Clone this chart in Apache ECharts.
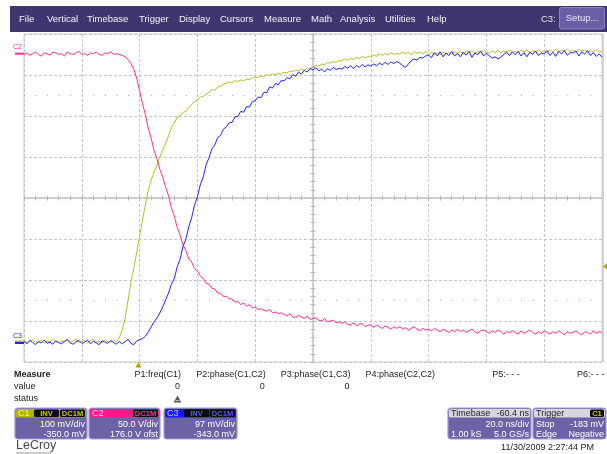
<!DOCTYPE html>
<html>
<head>
<meta charset="utf-8">
<script src="https://cdn.jsdelivr.net/npm/echarts/dist/echarts.min.js"></script>
<style>
  html, body { margin: 0; padding: 0; background: #ffffff; }
  #scope { width: 607px; height: 454px; }
</style>
</head>
<body>
<div id="scope"></div>
<script>
// ---- acquisition settings ----
const TIMEBASE_NS_PER_DIV = 20;
const TIMEBASE_DELAY_NS = -60.4;
const SAMPLE_START_NS = -39.6;
const SAMPLE_STEP_NS = 1;
const TRIGGER_LEVEL_MV = -183;

const C1_MV_PER_DIV = 100, C1_OFFSET_MV = -350, C1_INVERTED = true;
const C2_V_PER_DIV = 50, C2_OFFSET_V = 176;
const C3_MV_PER_DIV = 97, C3_OFFSET_MV = -343;

// ---- waveforms (displayed values, one sample per ns) ----
const c1DisplayMv = [
  2, -3, 1, 4, -2, 0, 3, -4, 1, -1,
  5, 0, -3, 2, -1, 4, -2, 1, 6, -2,
  0, 3, -4, 2, 5, -1, 1, -3, 4, 0,
  -2, 3, 0, 10, 28, 57, 101, 145, 179, 218,
  257, 296, 333, 369, 394, 413, 430, 450, 467, 484,
  501, 522, 533, 547, 550, 559, 561, 572, 577, 586,
  589, 596, 597, 604, 607, 614, 613, 621, 622, 628,
  630, 633, 631, 636, 634, 638, 636, 640, 639, 643,
  645, 643, 648, 646, 651, 649, 653, 650, 655, 652,
  657, 655, 660, 658, 662, 660, 664, 662, 667, 665,
  670, 673, 672, 677, 675, 680, 679, 683, 681, 686,
  684, 689, 686, 691, 688, 693, 690, 695, 692, 696,
  694, 699, 696, 701, 698, 702, 699, 704, 700, 703,
  701, 706, 702, 705, 700, 707, 703, 706, 701, 708,
  700, 705, 701, 704, 699, 706, 702, 705, 700, 706,
  703, 707, 702, 708, 704, 709, 703, 707, 705, 710,
  706, 703, 709, 705, 710, 704, 708, 706, 711, 705,
  708, 704, 710, 706, 711, 705, 709, 707, 712, 706,
  709, 705, 711, 707, 712, 706, 710, 708, 713, 707,
  710, 706, 712, 708, 711, 705, 709, 707, 712, 706,
  708
];

const c2Volts = [
  -1, 1, -2, 0, 2, -1, -3, 1, 0, -2,
  2, 1, -1, 0, -3, 2, 0, -1, 1, 3,
  -1, 0, -2, 1, 0, 2, -1, -2, 1, 0,
  2, -1, 0, -1, -2, -4, -7, -12, -19, -30,
  -45, -61, -74, -91, -103, -118, -128, -141, -150, -163,
  -173, -188, -198, -212, -221, -233, -240, -250, -254, -262,
  -265, -271, -274, -280, -281, -286, -287, -292, -292, -296,
  -296, -299, -299, -303, -302, -306, -304, -308, -306, -310,
  -309, -312, -311, -313, -314, -312, -316, -315, -317, -316,
  -318, -320, -317, -321, -322, -319, -321, -323, -320, -324,
  -323, -322, -325, -326, -323, -327, -326, -325, -328, -327,
  -329, -327, -330, -331, -328, -332, -330, -329, -333, -331,
  -331, -334, -331, -333, -335, -332, -334, -336, -333, -335,
  -333, -336, -334, -337, -335, -333, -336, -338, -335, -337,
  -336, -338, -335, -337, -339, -336, -338, -340, -337, -339,
  -336, -339, -337, -340, -338, -336, -339, -341, -338, -337,
  -339, -341, -338, -340, -337, -339, -342, -339, -340, -338,
  -340, -342, -338, -341, -339, -337, -340, -342, -339, -341,
  -338, -340, -342, -339, -341, -338, -340, -343, -339, -341,
  -340, -338, -341, -343, -339, -340, -342, -338, -341, -339,
  -340
];

const c3DisplayMv = [
  4, -2, 6, 1, -4, 3, 0, 7, -1, 2,
  -3, 5, 1, -2, 4, 8, 0, -3, 3, 6,
  -1, 2, 7, -2, 4, 0, -4, 5, 2, -1,
  6, 1, -3, 4, -2, 3, 9, -1, -4, 5,
  8, 10, 16, 26, 38, 50, 59, 71, 85, 102,
  118, 139, 152, 180, 198, 228, 245, 275, 296, 326,
  346, 374, 392, 421, 438, 459, 468, 486, 491, 506,
  511, 521, 522, 535, 536, 548, 546, 559, 558, 571,
  573, 582, 580, 593, 592, 606, 603, 614, 611, 621,
  620, 628, 625, 635, 631, 641, 636, 645, 641, 649,
  646, 651, 644, 648, 641, 649, 645, 652, 647, 650,
  648, 654, 650, 656, 649, 657, 652, 659, 653, 658,
  655, 660, 656, 662, 658, 664, 659, 665, 661, 666,
  662, 656, 652, 660, 668, 672, 669, 676, 674, 679,
  681, 675, 687, 679, 689, 677, 686, 680, 690, 679,
  685, 677, 688, 681, 690, 676, 686, 682, 691, 679,
  686, 679, 674, 677, 672, 676, 683, 688, 680, 689,
  682, 690, 679, 687, 677, 688, 683, 691, 680, 686,
  684, 692, 680, 688, 678, 690, 684, 692, 681, 687,
  686, 691, 679, 689, 683, 692, 680, 687, 678, 684,
  676
];

// ---- readout texts ----
const MENU_LABELS = ['File', 'Vertical', 'Timebase', 'Trigger', 'Display', 'Cursors', 'Measure', 'Math', 'Analysis', 'Utilities', 'Help'];
const MEASURE_HEADS = ['P1:freq(C1)', 'P2:phase(C1,C2)', 'P3:phase(C1,C3)', 'P4:phase(C2,C2)', 'P5:- - -', 'P6:- - -'];
const MEASURE_VALUES = ['0', '0', '0', '', '', ''];
const ROW_LABELS = ['Measure', 'value', 'status'];
const TIMESTAMP = '11/30/2009 2:27:44 PM';

// ---- layout / styling ----
const MENU_X = [19, 47, 87, 139, 179, 220, 264, 311, 340, 385, 427];
const FONT = '"Liberation Sans", Arial, Helvetica, sans-serif';
const COL = { c1: '#bcbc26', c2: '#ff2d90', c3: '#2222ff', menu: '#41356f', body: '#6c63a7', edge: '#a199d6', grid: '#c6c6c6' };
const GRID = { left: 24, top: 34, width: 578, height: 328 };

const timeMin = -TIMEBASE_DELAY_NS - 5 * TIMEBASE_NS_PER_DIV;
const timeMax = -TIMEBASE_DELAY_NS + 5 * TIMEBASE_NS_PER_DIV;
const toPairs = arr => arr.map((v, i) => [SAMPLE_START_NS + i * SAMPLE_STEP_NS, v]);
const chanAxis = (vdiv, ofst) => ({ type: 'value', show: false, min: -ofst - 4 * vdiv, max: -ofst + 4 * vdiv,
  axisLine: { onZero: false } });

const tickStyle = { color: '#b9b9b9', width: 1 };
const centreAxisX = inside => ({
  type: 'value', min: -5, max: 5, interval: 1, position: 'bottom',
  axisLine: { show: !inside, onZero: true, onZeroAxisIndex: 0, lineStyle: { color: '#c2c2c2', width: 1.5 } },
  axisTick: { show: true, inside, length: 2.5, lineStyle: tickStyle },
  minorTick: { show: true, splitNumber: 5, length: 2.5, lineStyle: tickStyle },
  axisLabel: { show: false }, splitLine: { show: false }
});
const centreAxisY = inside => ({
  type: 'value', min: -4, max: 4, interval: 1, position: 'left',
  axisLine: { show: !inside, onZero: true, onZeroAxisIndex: 0, lineStyle: { color: '#c2c2c2', width: 1.5 } },
  axisTick: { show: true, inside, length: 2.5, lineStyle: tickStyle },
  minorTick: { show: true, splitNumber: 5, length: 2.5, lineStyle: tickStyle },
  axisLabel: { show: false }, splitLine: { show: false }
});

const trace = (name, data, yIdx, color) => ({
  name, type: 'line', data: toPairs(data), xAxisIndex: 3, yAxisIndex: yIdx,
  showSymbol: false, symbol: 'none', silent: true, animation: false,
  lineStyle: { color, width: 1 }, z: 5
});

const chart = echarts.init(document.getElementById('scope'), null, { renderer: 'canvas', width: 607, height: 454 });

chart.setOption({
  animation: false,
  backgroundColor: '#ffffff',
  grid: Object.assign({ show: true, borderColor: '#cdcdcd', borderWidth: 1, backgroundColor: 'transparent' }, GRID),
  xAxis: [
    { type: 'value', min: -5, max: 5, interval: 1, axisLine: { show: false, onZero: false }, axisTick: { show: false },
      axisLabel: { show: false }, splitLine: { show: true, lineStyle: { color: COL.grid, type: [3, 2], width: 1 } } },
    centreAxisX(false),
    centreAxisX(true),
    { type: 'value', show: false, min: timeMin, max: timeMax, axisLine: { onZero: false } }
  ],
  yAxis: [
    { type: 'value', min: -4, max: 4, interval: 1, axisLine: { show: false, onZero: false }, axisTick: { show: false },
      axisLabel: { show: false }, splitLine: { show: true, lineStyle: { color: COL.grid, type: [3, 2], width: 1 } } },
    centreAxisY(false),
    centreAxisY(true),
    chanAxis(C1_MV_PER_DIV, C1_OFFSET_MV),
    chanAxis(C2_V_PER_DIV, C2_OFFSET_V),
    chanAxis(C3_MV_PER_DIV, C3_OFFSET_MV)
  ],
  series: [
    { type: 'line', xAxisIndex: 0, yAxisIndex: 0, data: [[-5, 0]], showSymbol: false, silent: true,
      lineStyle: { opacity: 0 },
      markLine: { silent: true, symbol: 'none', label: { show: false }, animation: false,
        lineStyle: { color: '#a9a9a9', type: [1, 10.56], width: 1 },
        data: [{ yAxis: 2.5 }, { yAxis: -2.5 }] } },
    trace('C1', c1DisplayMv, 3, COL.c1),
    trace('C2', c2Volts, 4, COL.c2),
    trace('C3', c3DisplayMv, 5, COL.c3)
  ]
});

// ---- screen furniture ----
function txt(x, y, str, o) {
  o = o || {};
  const align = o.align || 'left';
  return { type: 'text', x, y, silent: true, z: o.z || 20,
    style: { text: str, fill: o.fill || '#1e1e1e',
      font: (o.weight || 'normal') + ' ' + (o.size || 9) + 'px ' + FONT,
      textAlign: align, align: align, textVerticalAlign: 'middle', verticalAlign: 'middle' } };
}
function box(x, y, w, h, fill, o) {
  o = o || {};
  return { type: 'rect', silent: true, z: o.z || 10, shape: { x, y, width: w, height: h, r: o.r || 0 },
    style: { fill, stroke: o.stroke || null, lineWidth: o.lw || 1 } };
}
function badge(xRight, y, w, label, color) {
  return [box(xRight - w, y, w, 7.5, '#0b0b0b', { r: 1.5, z: 12 }),
          txt(xRight - w / 2, y + 4, label, { align: 'center', fill: color, size: 7.5, weight: 'bold', z: 13 })];
}

const els = [];

// menu bar
els.push(box(10, 6, 597, 26, COL.menu));
MENU_LABELS.forEach((m, i) => els.push(txt(MENU_X[i], 19.5, m, { fill: '#f2f2f8', size: 9.5 })));
els.push(txt(541, 19.5, 'C3:', { fill: '#e4e4f0', size: 9.5 }));
els.push(box(559.5, 7.5, 45, 21.5, '#6a5ea6', { stroke: '#8c83c4', r: 2, z: 11 }));
els.push(txt(582, 18.5, 'Setup...', { align: 'center', fill: '#e6e6f4', size: 9.5 }));

// right edge strip of the graticule
els.push(box(602, 34, 2, 328, '#d2d2d2', { z: 3 }));

// channel ground markers and trigger markers
const px = (finder, v) => chart.convertToPixel(finder, v);
const c1Zero = px({ yAxisIndex: 3 }, 0);
const c2Zero = px({ yAxisIndex: 4 }, 0);
const c3Zero = px({ yAxisIndex: 5 }, 0);
els.push({ type: 'line', silent: true, z: 15, shape: { x1: 15, y1: c1Zero, x2: 24, y2: c1Zero }, style: { stroke: COL.c1, lineWidth: 2 } });
els.push({ type: 'line', silent: true, z: 15, shape: { x1: 15, y1: c2Zero, x2: 24, y2: c2Zero }, style: { stroke: COL.c2, lineWidth: 2 } });
els.push({ type: 'line', silent: true, z: 16, shape: { x1: 15, y1: c3Zero, x2: 24, y2: c3Zero }, style: { stroke: COL.c3, lineWidth: 2 } });
els.push(txt(13, c2Zero - 6.5, 'C2', { fill: COL.c2, size: 7 }));
els.push(txt(13, c3Zero - 7, 'C3', { fill: COL.c3, size: 7 }));

const trigX = px({ xAxisIndex: 3 }, 0);
const trigY = px({ yAxisIndex: 3 }, C1_INVERTED ? -TRIGGER_LEVEL_MV : TRIGGER_LEVEL_MV);
els.push({ type: 'polygon', silent: true, z: 15, shape: { points: [[trigX - 3, 367.5], [trigX + 3, 367.5], [trigX, 362]] }, style: { fill: '#a8a800' } });
els.push({ type: 'polygon', silent: true, z: 15, shape: { points: [[603, trigY], [607.5, trigY - 3.5], [607.5, trigY + 3.5]] }, style: { fill: '#a8a800' } });

// measurement table
els.push(txt(14, 375, ROW_LABELS[0], { weight: 'bold' }));
els.push(txt(14, 387, ROW_LABELS[1]));
els.push(txt(14, 399, ROW_LABELS[2]));
MEASURE_HEADS.forEach((h, i) => {
  const xr = 181 + i * 84.7;
  els.push(txt(xr, 375, h, { align: 'right' }));
  if (MEASURE_VALUES[i]) els.push(txt(xr - 1, 387, MEASURE_VALUES[i], { align: 'right' }));
});
els.push({ type: 'polygon', silent: true, z: 15, shape: { points: [[173.5, 402.5], [177.5, 395.5], [181.5, 402.5]] }, style: { fill: '#5a5a5a' } });
els.push({ type: 'line', silent: true, z: 16, shape: { x1: 175.5, y1: 400.5, x2: 179.5, y2: 400.5 }, style: { stroke: '#d0d0d0', lineWidth: 0.8 } });

// channel descriptors
function chanBox(x, w, color, name, nameColor, badges, badgeColor, line1, line2) {
  els.push(box(x, 408, w, 31, COL.body, { stroke: COL.edge, r: 3, lw: 1.2 }));
  els.push(box(x + 1, 409, w - 2, 8.5, color, { r: 1.5, z: 11 }));
  els.push(txt(x + 3, 413.3, name, { fill: nameColor, size: 9, z: 13 }));
  let xr = x + w - 2;
  for (let i = badges.length - 1; i >= 0; i--) {
    const bw = badges[i].length > 2 ? 25 : 15;
    badge(xr, 409.5, bw, badges[i], badgeColor).forEach(e => els.push(e));
    xr -= bw + 1;
  }
  els.push(txt(x + w - 2, 424.5, line1, { align: 'right', fill: '#ffffff' }));
  els.push(txt(x + w - 2, 434.5, line2, { align: 'right', fill: '#ffffff' }));
}
chanBox(15, 72, '#b3b300', 'C1', '#f0f0b8', ['INV', 'DC1M'], '#c8c800', C1_MV_PER_DIV + ' mV/div', C1_OFFSET_MV.toFixed(1) + ' mV');
chanBox(89, 71, '#ff1a8a', 'C2', '#ffd6ea', ['DC1M'], '#ff3399', C2_V_PER_DIV.toFixed(1) + ' V/div', C2_OFFSET_V.toFixed(1) + ' V ofst');
chanBox(164, 73, '#1a1af0', 'C3', '#c8c8ff', ['INV', 'DC1M'], '#5a5aff', C3_MV_PER_DIV + ' mV/div', C3_OFFSET_MV.toFixed(1) + ' mV');

// timebase descriptor
els.push(box(448, 408, 83, 31, COL.body, { stroke: COL.edge, r: 3, lw: 1.2 }));
els.push(box(449, 409, 81, 8.5, '#d6d6de', { r: 1.5, z: 11 }));
els.push(txt(451, 413.3, 'Timebase', { z: 13 }));
els.push(txt(529, 413.3, TIMEBASE_DELAY_NS.toFixed(1) + ' ns', { align: 'right', z: 13 }));
els.push(txt(529, 424.5, TIMEBASE_NS_PER_DIV.toFixed(1) + ' ns/div', { align: 'right', fill: '#ffffff' }));
els.push(txt(451, 434.5, '1.00 kS', { fill: '#ffffff' }));
els.push(txt(529, 434.5, '5.0 GS/s', { align: 'right', fill: '#ffffff' }));

// trigger descriptor
els.push(box(533, 408, 73, 31, COL.body, { stroke: COL.edge, r: 3, lw: 1.2 }));
els.push(box(534, 409, 71, 8.5, '#d6d6de', { r: 1.5, z: 11 }));
els.push(txt(536, 413.3, 'Trigger', { z: 13 }));
badge(604, 409.5, 14, 'C1', '#c8c800').forEach(e => els.push(e));
els.push(txt(536, 424.5, 'Stop', { fill: '#ffffff' }));
els.push(txt(604, 424.5, TRIGGER_LEVEL_MV + ' mV', { align: 'right', fill: '#ffffff' }));
els.push(txt(536, 434.5, 'Edge', { fill: '#ffffff' }));
els.push(txt(604, 434.5, 'Negative', { align: 'right', fill: '#ffffff' }));

// footer
els.push(txt(594, 448, TIMESTAMP, { align: 'right' }));
els.push(txt(16, 446, 'LeCroy', { fill: '#474747', size: 12.5 }));
els.push({ type: 'line', silent: true, z: 15, shape: { x1: 16, y1: 453, x2: 51, y2: 453 }, style: { stroke: '#9a9a9a', lineWidth: 1 } });

chart.setOption({ graphic: { elements: els } });
</script>
</body>
</html>
